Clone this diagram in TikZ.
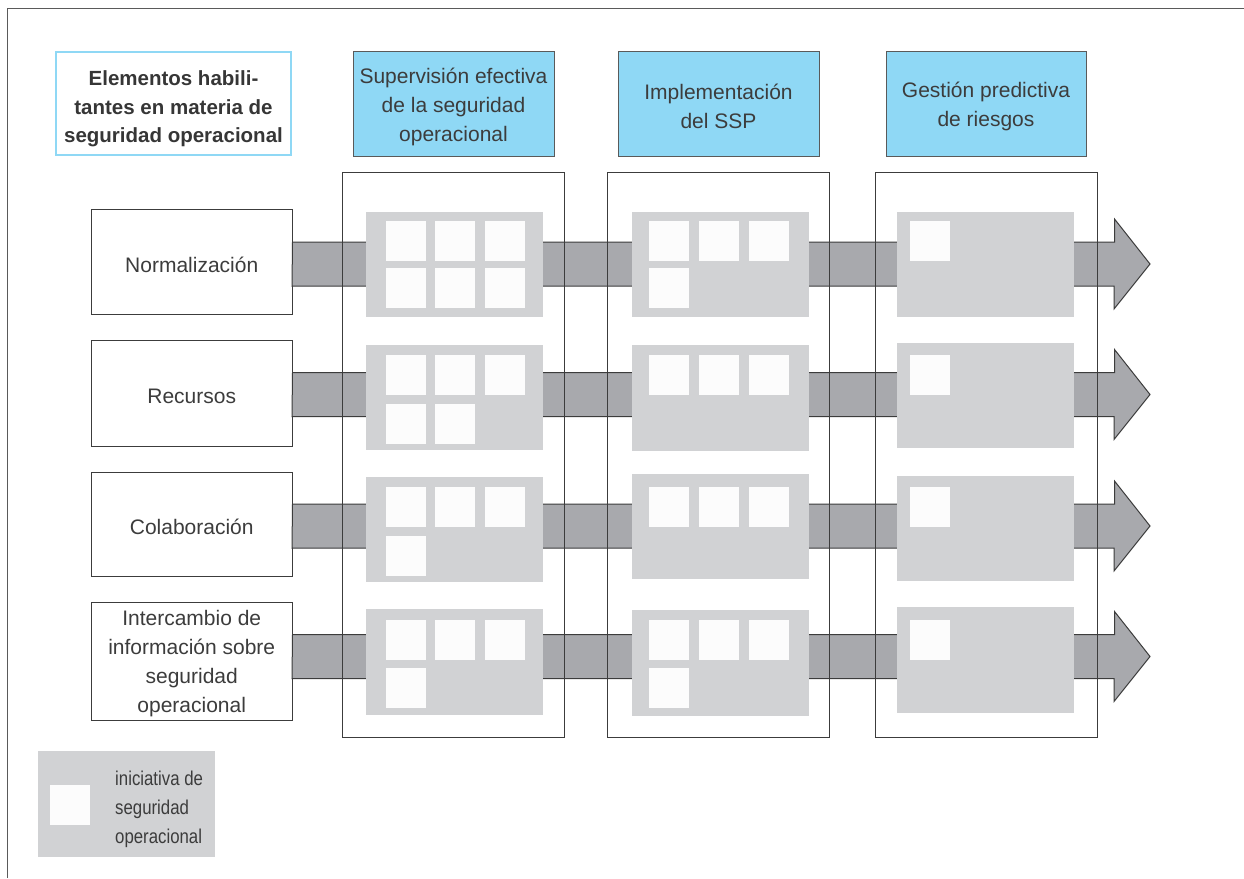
\documentclass[tikz,border=0pt]{standalone}
\usepackage{fontspec}
\setmainfont{Liberation Sans}
\newfontfamily\narrowfont[FakeStretch=0.84]{Liberation Sans}
\usetikzlibrary{calc}

\definecolor{skyblue}{HTML}{8FD8F5}
\definecolor{panelgray}{HTML}{D1D2D4}
\definecolor{bandgray}{HTML}{A8A9AD}
\definecolor{inkgray}{HTML}{3C3C3C}
\definecolor{framegray}{HTML}{5A5A5A}
\definecolor{squarewhite}{HTML}{FCFCFC}

\begin{document}
\begin{tikzpicture}[x=1pt,y=-1pt,
  txt/.style={text=inkgray, font=\fontsize{21}{29}\selectfont, align=center,
    inner sep=0pt, yshift=-3pt},
  labelbox/.style={draw=inkgray, line width=1pt, fill=white,
    minimum width=200.5pt, inner sep=0pt},
  headbox/.style={draw=framegray, line width=1pt, fill=skyblue,
    minimum width=201pt, minimum height=105pt, inner sep=0pt},
  colbox/.style={draw=inkgray, line width=1pt, minimum width=222pt,
    minimum height=565pt, inner sep=0pt},
  panel/.style={fill=panelgray, minimum width=177pt, minimum height=105pt,
    inner sep=0pt, anchor=north west},
  sq/.style={fill=squarewhite, minimum size=40pt, inner sep=0pt, anchor=north west},
  band/.style={fill=bandgray, draw=inkgray, line width=1pt, line join=miter},
]
\useasboundingbox (0,0) rectangle (1244,878);

% page frame (open at right and bottom)
\draw[framegray, line width=1.6pt] (7.5,878) -- (7.5,8.5) -- (1244,8.5);

% column headings
\node[draw=skyblue, line width=2.5pt, fill=white, minimum width=235pt,
      minimum height=103pt, inner sep=0pt] (hdr) at (173.5,103.5) {};
\node[txt, text=inkgray!90!black, font=\bfseries\fontsize{20.5}{28.5}\selectfont,
      yshift=-2.5pt] (hdr-t) at (hdr)
  {Elementos habili-\\tantes en materia de\\seguridad operacional};
\node[headbox] (h1) at (453.5,103.5) {};
\node[txt] (h1-t) at (h1) {Supervisión efectiva\\de la seguridad\\operacional};
\node[headbox] (h2) at (718.5,103.5) {};
\node[txt] (h2-t) at (h2) {Implementación\\del SSP};
\node[headbox, minimum width=200pt] (h3) at (986,103.5) {};
\node[txt] (h3-t) at (h3) {Gestión predictiva\\de riesgos};

% row labels
\node[labelbox, minimum height=105pt] (r1) at (191.75,261.5) {};
\node[txt] (r1-t) at (r1) {Normalización};
\node[labelbox, minimum height=106pt] (r2) at (191.75,393) {};
\node[txt] (r2-t) at (r2) {Recursos};
\node[labelbox, minimum height=104pt] (r3) at (191.75,524) {};
\node[txt] (r3-t) at (r3) {Colaboración};
\node[labelbox, minimum height=118pt] (r4) at (191.75,661) {};
\node[txt] (r4-t) at (r4)
  {Intercambio de\\información sobre\\seguridad\\operacional};

% arrow tips
\coordinate (t1) at (1150,264);
\coordinate (t2) at (1150,394.5);
\coordinate (t3) at (1150,526);
\coordinate (t4) at (1150,656.5);

% broad arrows from each label
\foreach \k in {1,2,3,4}{
  \draw[band] (r\k.east |- t\k) ++(0,-22) -- ++(822,0) -- ++(0,-23) -- (t\k)
    -- ++(-36,45) -- ++(0,-23) -- ++(-822,0) -- cycle;
}

% stage columns
\node[colbox] (c1) at (453,454.5) {};
\node[colbox] (c2) at (718,454.5) {};
\node[colbox] (c3) at (986,454.5) {};

% grey panels: row 1
\node[panel] (p11) at (366,212) {};
\node[panel] (p12) at (632,212) {};
\node[panel] (p13) at (897,212) {};
% row 2
\node[panel] (p21) at (366,345) {};
\node[panel, minimum height=106pt] (p22) at (632,345) {};
\node[panel] (p23) at (897,343) {};
% row 3
\node[panel] (p31) at (366,477) {};
\node[panel] (p32) at (632,474) {};
\node[panel] (p33) at (897,476) {};
% row 4
\node[panel, minimum height=106pt] (p41) at (366,609) {};
\node[panel, minimum height=106pt] (p42) at (632,610) {};
\node[panel, minimum height=106pt] (p43) at (897,607) {};

% safety initiatives
\foreach[count=\i] \x/\y in {386/221,435/221,485/221,386/268,435/268,485/268}
  \node[sq] (s11-\i) at (\x,\y) {};
\foreach[count=\i] \x/\y in {649/221,699/221,749/221,649/268}
  \node[sq] (s12-\i) at (\x,\y) {};
\node[sq] (s13-1) at (910,221) {};

\foreach[count=\i] \x/\y in {386/355,435/355,485/355,386/404,435/404}
  \node[sq] (s21-\i) at (\x,\y) {};
\foreach[count=\i] \x/\y in {649/355,699/355,749/355}
  \node[sq] (s22-\i) at (\x,\y) {};
\node[sq] (s23-1) at (910,355) {};

\foreach[count=\i] \x/\y in {386/487,435/487,485/487,386/536}
  \node[sq] (s31-\i) at (\x,\y) {};
\foreach[count=\i] \x/\y in {649/487,699/487,749/487}
  \node[sq] (s32-\i) at (\x,\y) {};
\node[sq] (s33-1) at (910,487) {};

\foreach[count=\i] \x/\y in {386/620,435/620,485/620,386/668}
  \node[sq] (s41-\i) at (\x,\y) {};
\foreach[count=\i] \x/\y in {649/620,699/620,749/620,649/668}
  \node[sq] (s42-\i) at (\x,\y) {};
\node[sq] (s43-1) at (910,620) {};

% legend
\node[panel, minimum height=106pt] (legend) at (38,751) {};
\node[sq] (legsq) at (50,785) {};
\node[text=inkgray, font=\narrowfont\fontsize{20}{29}\selectfont, align=left,
      anchor=west, inner sep=0pt] (legtxt) at (115,809.5)
  {iniciativa de\\seguridad\\operacional};
\end{tikzpicture}
\end{document}
